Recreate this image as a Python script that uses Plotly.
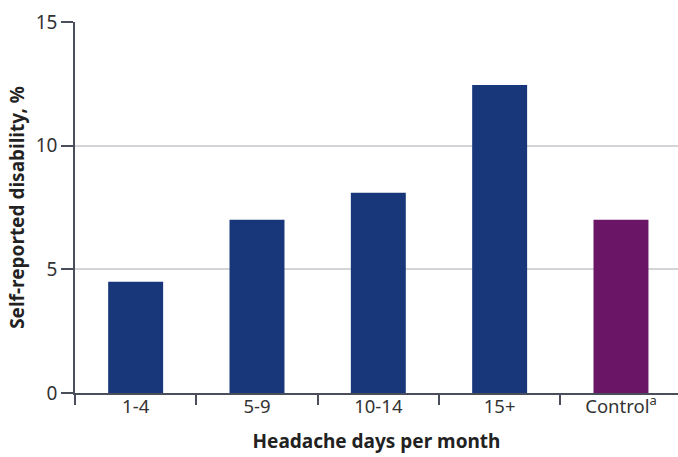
import plotly.graph_objects as go

categories = ["1-4", "5-9", "10-14", "15+", "Control<sup>a</sup>"]
values = [4.5, 7.0, 8.1, 12.45, 7.0]
colors = ["#17377a", "#17377a", "#17377a", "#17377a", "#6b1566"]
y_ticks = [0, 5, 10, 15]

fig = go.Figure(go.Bar(x=categories, y=values, marker=dict(color=colors, line=dict(width=0))))

fig.update_layout(
    width=678, height=457,
    margin=dict(l=75, r=0, t=22, b=64, autoexpand=False),
    plot_bgcolor="white", paper_bgcolor="white",
    bargap=0.547,
    font=dict(family="Noto Sans", color="#333333", size=18),
    showlegend=False,
)
fig.update_xaxes(
    range=[-0.5, 4.47], automargin=False,
    showline=True, linecolor="#4a4d5a", linewidth=1.5,
    ticks="outside", tickson="boundaries", ticklen=10, tickcolor="#4a4d5a", tickwidth=1.5,
    ticklabelstandoff=-4,
    tickfont=dict(size=18.5, color="#333333"),
    title=dict(text="<b>Headache days per month</b>", font=dict(size=19, color="#222222"), standoff=18),
)
fig.update_yaxes(
    range=[0, 15], tickvals=y_ticks, automargin=False,
    showline=True, linecolor="#4a4d5a", linewidth=1.5,
    ticks="outside", ticklen=12, tickcolor="#4a4d5a", tickwidth=1.5,
    showgrid=True, gridcolor="#d4d4d8", gridwidth=1.5,
    zeroline=False,
    tickfont=dict(size=19, color="#333333"),
    title=dict(text="<b>Self-reported disability, %</b>", font=dict(size=19, color="#222222"), standoff=6),
)

fig.write_html("out.html", config={"displayModeBar": False},
               post_script="document.body.style.margin='0';")
